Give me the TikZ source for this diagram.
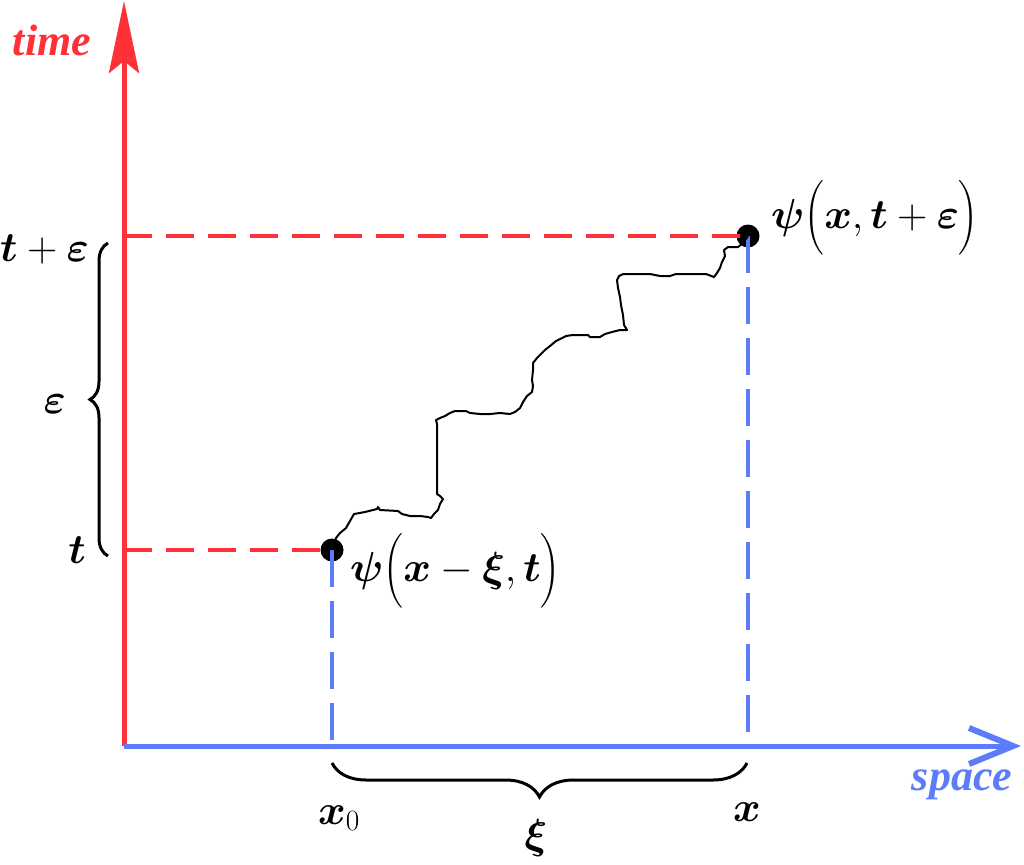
\RequirePackage{fix-cm}
\documentclass[tikz,border=0pt]{standalone}
\usepackage{fontspec}
\usepackage{amsmath}
\usepackage{bm}
\usetikzlibrary{arrows.meta,decorations.pathreplacing}
\newfontfamily\tnr{Liberation Serif}
\definecolor{myred}{RGB}{255,48,56}
\definecolor{myblue}{RGB}{92,124,250}
\begin{document}
\begin{tikzpicture}[x=1pt,y=-1pt,
  axisR/.style={draw=myred, line width=5pt},
  axisB/.style={draw=myblue, line width=5pt},
  dashR/.style={draw=myred, line width=3.5pt, dash pattern=on 28pt off 14pt},
  dashB/.style={draw=myblue, line width=3.5pt, dash pattern=on 37pt off 14pt},
  dotstyle/.style={circle, fill=black, inner sep=0pt, minimum size=23pt},
  walk/.style={draw=black, line width=2pt, line join=round},
  bracestyle/.style={draw=black, line width=3pt, decorate},
  mathlbl/.style={font=\fontsize{42}{46}\selectfont, inner sep=0pt},
  axlbl/.style={font=\fontsize{44}{48}\selectfont\tnr\bfseries\itshape, inner sep=0pt}]
\useasboundingbox (0,0) rectangle (1024,864);
% axes
\coordinate (O) at (124,746);
\coordinate (T) at (124,1);
\coordinate (S) at (1021,746);
% points
\node[dotstyle] (A) at (332,550) {};
\node[dotstyle] (B) at (748,236) {};
% dashed guides
\draw[dashR] (O |- B) -- (B.center);
\draw[dashR] (O |- A) -- (A.center);
\draw[dashB] (B.center) -- (B |- O);
\draw[dashB] (A.center) -- (A |- O);
% axes on top
\draw[axisR, -{Stealth[length=72pt, width=30pt, inset=12pt]}] (O) -- (T);
\draw[axisB, -{Straight Barb[length=44pt, width=36pt, line width=6pt]}] (O) -- (S);
% random walk
\draw[walk] (A.center) -- (336,538) -- (340,533) -- (346,528) -- (350,521) -- (354,514) -- (365,512) -- (377,509) -- (378,507) -- (380,510) -- (398,511) -- (402,514) -- (410,516) -- (420,516) -- (428,517) -- (431,518) -- (434,514) -- (438,510) -- (440,504) -- (443,499) -- (440,496) -- (437,494) -- (437,430) -- (437,424) -- (436,420) -- (440,418) -- (445,416) -- (450,413) -- (455,411) -- (466,411) -- (470,413) -- (480,414) -- (490,414) -- (500,413) -- (510,414) -- (515,412) -- (520,408) -- (523,402) -- (527,396) -- (532,392) -- (533,386) -- (532,380) -- (533,370) -- (533,363) -- (537,358) -- (540,355) -- (545,350) -- (550,346) -- (556,341) -- (560,339) -- (566,336) -- (573,335) -- (588,335) -- (590,337) -- (600,337) -- (605,334) -- (612,332) -- (620,330) -- (627,330) -- (624,325) -- (623,315) -- (621,305) -- (620,297) -- (618,288) -- (617,280) -- (619,276) -- (623,274) -- (650,274) -- (660,276) -- (670,276) -- (676,274) -- (706,274) -- (714,277) -- (717,273) -- (720,268) -- (722,262) -- (725,256) -- (724,250) -- (728,247) -- (738,247) -- (742,244) -- (B.center);
% braces
\coordinate (LB1) at (108,556);
\coordinate (LB2) at (108,243);
\draw[bracestyle, decoration={brace, amplitude=18pt}] (LB1) -- (LB2);
\coordinate (BB1) at (332,763);
\coordinate (BB2) at (747,763);
\draw[bracestyle, decoration={brace, amplitude=34pt, mirror}] (BB1) -- (BB2);
% labels
\node[axlbl, text=myred] (tlab) at (52,40) {time};
\node[axlbl, text=myblue] (slab) at (962,785) {space};
\node[mathlbl, anchor=base west] (LA) at (350,581) {$\bm{\psi}\Bigl(\bm{x}-\bm{\xi},\bm{t}\Bigr)$};
\node[mathlbl, anchor=base west] (LB) at (771,228) {$\bm{\psi}\Bigl(\bm{x},\bm{t}+\bm{\varepsilon}\Bigr)$};
\node[mathlbl, anchor=base east] (tpe) at (89,261) {$\bm{t}+\bm{\varepsilon}$};
\node[mathlbl, anchor=base east] (eps) at (66,413) {$\bm{\varepsilon}$};
\node[mathlbl, anchor=base east] (tl) at (86,563) {$\bm{t}$};
\node[mathlbl, anchor=base west] (x0) at (318,824) {$\bm{x}_0$};
\node[mathlbl, anchor=base west] (xl) at (733,821) {$\bm{x}$};
\node[mathlbl] (xi) at (536,838) {$\bm{\xi}$};
\end{tikzpicture}
\end{document}
